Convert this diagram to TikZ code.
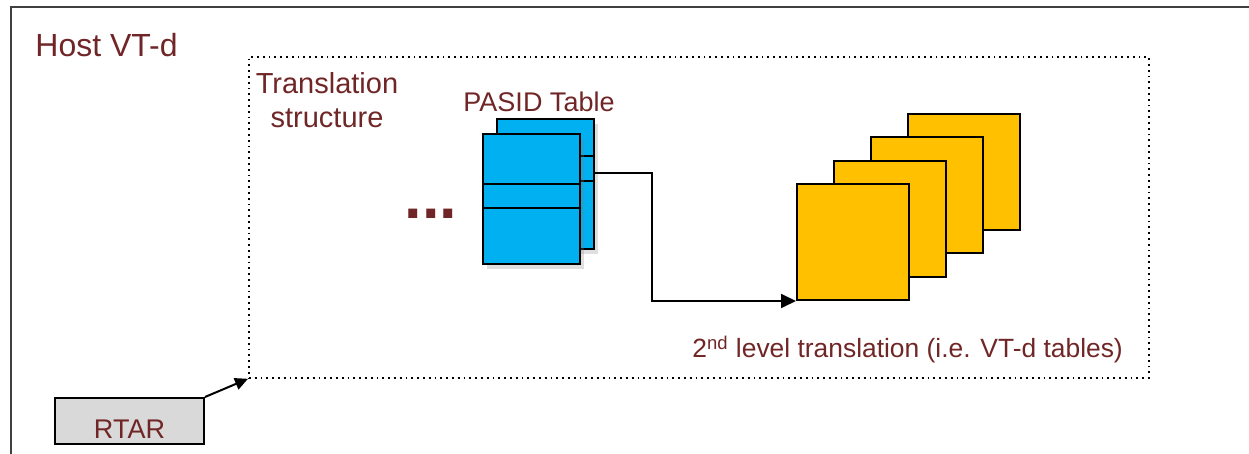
\documentclass[tikz,border=0pt]{standalone}
\usepackage{fontspec}
\setmainfont{Liberation Sans}
\usetikzlibrary{arrows.meta,positioning,calc,shadows}
\definecolor{txtred}{RGB}{112,38,38}
\definecolor{tblblue}{RGB}{0,176,240}
\definecolor{lvlorange}{RGB}{255,192,0}
\definecolor{regrey}{RGB}{217,217,217}

\begin{document}
\begin{tikzpicture}[x=0.5pt,y=-0.5pt,
  lbl/.style={text=txtred,inner sep=0pt},
  pasid/.style={draw,line width=0.9pt,fill=tblblue,minimum width=48.5pt,minimum height=65pt,
    inner sep=0pt,anchor=north west,drop shadow={opacity=0.25,shadow xshift=2pt,shadow yshift=-2.5pt}},
  pgtbl/.style={draw,line width=1pt,fill=lvlorange,minimum width=56pt,minimum height=58pt,
    inner sep=0pt,anchor=north west},
  link/.style={-{Triangle[length=7.5pt,width=7pt]},line width=0.9pt}]
  \useasboundingbox (0,0) rectangle (1249,454);

  % outer frame
  \draw[line width=1pt,black!75] (11,454) -- (11,7) -- (1249,7);
  \node[lbl,anchor=base west,font=\fontsize{16}{19}\selectfont] (host) at (35,57) {Host VT-d};

  % translation structure
  \node[draw,dotted,line width=0.9pt,minimum width=450pt,minimum height=160.5pt,
    anchor=north west,inner sep=0pt] (trans) at (248,56) {};
  \node[lbl,align=center,font=\fontsize{14.5}{17}\selectfont] (transtxt) at (327,100) {Translation\\structure};

  % PASID table
  \node[lbl,anchor=base,font=\fontsize{13.5}{15}\selectfont] (pasidtxt) at (539,112) {PASID Table};
  \node[pasid] (pback) at (496,118) {};
  \foreach \d in {38,63}
    \draw[line width=0.9pt] ($(pback.north west)+(0,\d)$) -- ($(pback.north east)+(0,\d)$);
  \node[pasid] (pfront) at (482,133) {};
  \foreach \d in {51,75}
    \draw[line width=0.9pt] ($(pfront.north west)+(0,\d)$) -- ($(pfront.north east)+(0,\d)$);
  \node[lbl,anchor=base,font=\bfseries\fontsize{31.5}{32}\selectfont] (dots) at (431,219) {...};

  % 2nd level tables
  \foreach \i in {3,2,1,0}
    \node[pgtbl] (y\i) at (796+37*\i,183-23.3*\i) {};
  \node[lbl,anchor=base west,font=\fontsize{13.2}{16}\selectfont] (lvltxt) at (692,358)
    {2\textsuperscript{nd} level translation (i.e. VT-d tables)};

  \coordinate (pout) at ($(pback.north east)+(0,55)$);
  \draw[link] (pout) -- ++(57,0) |- (y0.south west);

  % RTAR
  \node[draw,fill=regrey,line width=1pt,minimum width=74.5pt,minimum height=23pt,anchor=north west,
    text=txtred,font=\fontsize{13.5}{15}\selectfont,text height=17pt,text depth=0pt,inner sep=0pt] (rtar) at (54,397) {RTAR};
  \draw[-{Triangle[length=6.5pt,width=6pt]},line width=1pt] (rtar.north east) -- (trans.south west);
\end{tikzpicture}
\end{document}
